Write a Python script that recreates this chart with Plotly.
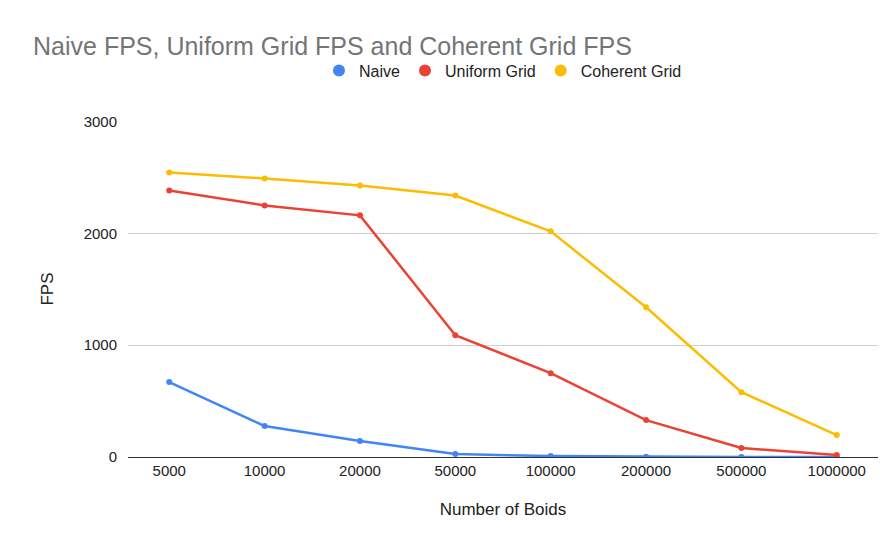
import plotly.graph_objects as go

boids = ["5000", "10000", "20000", "50000", "100000", "200000", "500000", "1000000"]
naive = [670, 277, 143, 27, 8, 3, 1, 0]
uniform = [2384, 2250, 2161, 1089, 750, 330, 80, 18]
coherent = [2545, 2491, 2429, 2339, 2018, 1339, 580, 196]

fig = go.Figure()
for name, vals, col in [("Naive", naive, "#4285F4"), ("Uniform Grid", uniform, "#EA4335"), ("Coherent Grid", coherent, "#FBBC04")]:
    fig.add_trace(go.Scatter(x=boids, y=vals, name=name, mode="lines+markers", showlegend=False,
                             line=dict(color=col, width=2.5), marker=dict(size=6, color=col)))
    fig.add_trace(go.Scatter(x=[None], y=[None], name=name, mode="markers",
                             marker=dict(size=14, color=col)))

fig.update_layout(
    width=894, height=551, paper_bgcolor="white", plot_bgcolor="white",
    font=dict(family="Liberation Sans, Arial", size=14, color="#222"),
    title=dict(text="Naive FPS, Uniform Grid FPS and Coherent Grid FPS", x=0.028, y=0.93,
               xanchor="left", yanchor="middle", font=dict(size=25, color="#757575")),
    legend=dict(orientation="h", x=0.5, xanchor="center", y=1.15, yanchor="middle",
                font=dict(size=16), itemsizing="constant"),
    margin=dict(l=120, r=24, t=113, b=102),
    xaxis=dict(type="category", title=dict(text="Number of Boids", standoff=25), showgrid=False,
               showline=True, linecolor="#333", tickfont=dict(size=15)),
    yaxis=dict(title=dict(text="FPS", standoff=25), range=[0, 3005], tickvals=[0, 1000, 2000, 3000],
               gridcolor="#d0d0d0", zeroline=False, tickfont=dict(size=15), ticks="", ticklabelstandoff=10),
)
fig.write_html("out.html")
